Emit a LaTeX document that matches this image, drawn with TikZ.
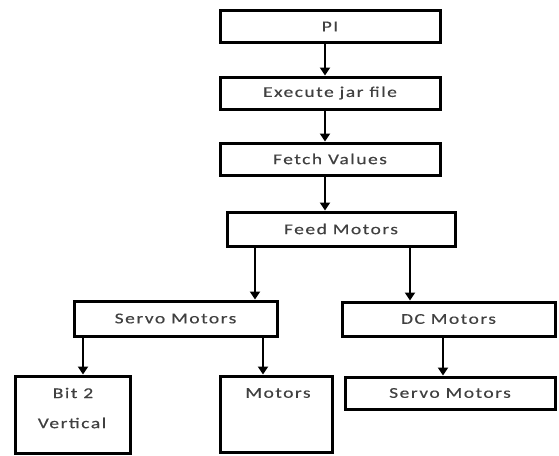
\documentclass[tikz,border=0pt]{standalone}
\usepackage{fontspec}
\setmainfont[LetterSpace=10,FakeStretch=1.3,FakeBold=0.3]{Carlito}
\usetikzlibrary{arrows.meta}
\begin{document}
\begin{tikzpicture}[x=1pt,y=-1pt,
  box/.style={draw=black, line width=3pt, fill=white, inner sep=0pt, font=\fontsize{15}{17}\selectfont, text=black!75},
  arr/.style={line width=2.8pt, -{Triangle[length=8pt,width=10pt]}},
  lbl/.style={font=\fontsize{15}{17}\selectfont, text=black!75, inner sep=0pt}]
\useasboundingbox (0,0) rectangle (559,455);
\node[box, minimum width=220pt, minimum height=32pt] (pi) at (330,26.5) {PI};
\node[box, minimum width=220pt, minimum height=32pt] (exec) at (330,93) {Execute jar file};
\node[box, minimum width=220pt, minimum height=32pt] (fetch) at (330,159) {Fetch Values};
\node[box, minimum width=228pt, minimum height=34pt] (feed) at (341,229) {Feed Motors};
\node[box, minimum width=203pt, minimum height=35pt] (servol) at (175.5,318.5) {Servo Motors};
\node[box, minimum width=213pt, minimum height=34pt] (dc) at (448.5,319) {DC Motors};
\node[box, minimum width=210pt, minimum height=32pt] (servor) at (450,393) {Servo Motors};
\node[box, minimum width=115pt, minimum height=77pt] (bit) at (72.5,414.5) {};
\node[box, minimum width=112pt, minimum height=76pt] (mot) at (276,414) {};
\node[lbl] (bitt1) at (73,393) {Bit 2};
\node[lbl] (bitt2) at (72,423) {Vertical};
\node[lbl] (mott) at (278,393) {Motors};
\coordinate (xc) at (325,0);
\coordinate (xa) at (255,0);
\coordinate (xb) at (410,0);
\coordinate (xd) at (443,0);
\coordinate (xe) at (83,0);
\coordinate (xf) at (263,0);
\draw[arr] (pi.south -| xc) -- (exec.north -| xc);
\draw[arr] (exec.south -| xc) -- (fetch.north -| xc);
\draw[arr] (fetch.south -| xc) -- (feed.north -| xc);
\draw[arr] (feed.south -| xa) -- (servol.north -| xa);
\draw[arr] (feed.south -| xb) -- (dc.north -| xb);
\draw[arr] (dc.south -| xd) -- (servor.north -| xd);
\draw[arr] (servol.south -| xe) -- (bit.north -| xe);
\draw[arr] (servol.south -| xf) -- (mot.north -| xf);
\end{tikzpicture}
\end{document}
